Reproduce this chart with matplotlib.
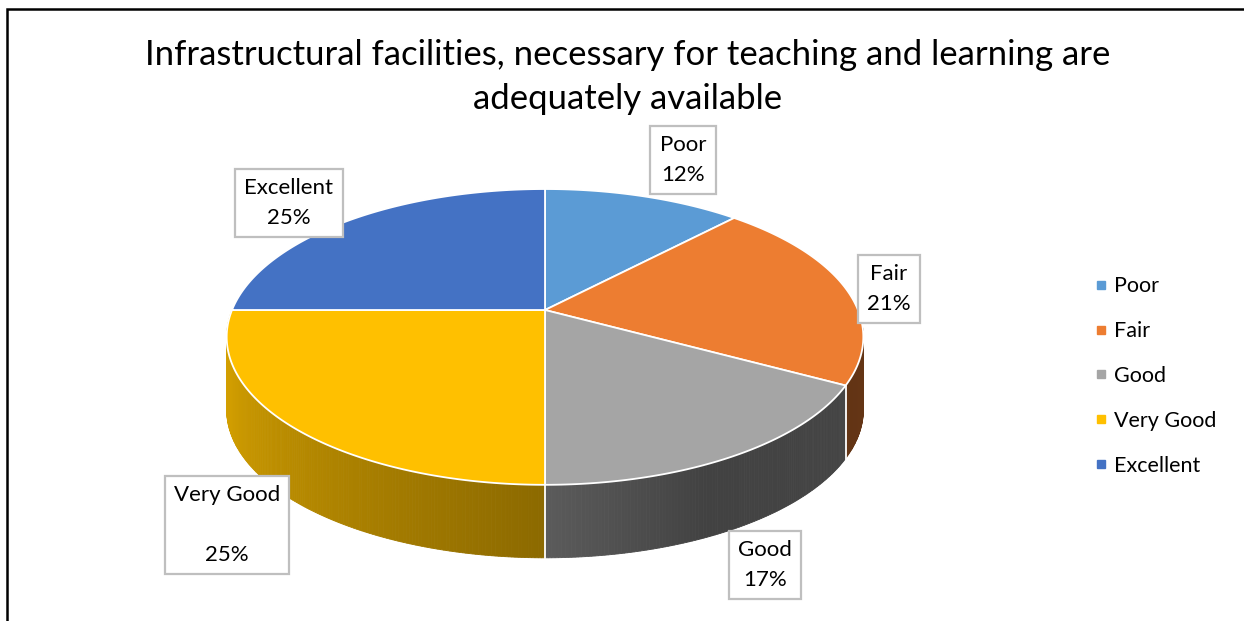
import numpy as np
import matplotlib.pyplot as plt
from matplotlib.patches import Polygon
from matplotlib.lines import Line2D

# chart data
categories = ["Poor", "Fair", "Good", "Very Good", "Excellent"]
shares = [12, 21, 17, 25, 25]
colors = ["#5B9BD5", "#ED7D31", "#A5A5A5", "#FFC000", "#4472C4"]
label_text = ["Poor\n12%", "Fair\n21%", "Good\n17%", "Very Good\n\n25%", "Excellent\n25%"]
title = "Infrastructural facilities, necessary for teaching and learning are\nadequately available"

# where the data labels sit (pixels)
label_pos = [(683, 160), (889, 289), (765, 565), (227, 525), (289, 203)]

# pie geometry, in pixel units of the canvas
CX, CY = 545, 310
RX, RY = 313, 143
PERSP = 0.182
DEPTH = 73

plt.rcParams['font.family'] = ['Lato', 'DejaVu Sans']


def proj(t):
    u, v = np.cos(t), np.sin(t)
    d = 1 + PERSP * v
    return CX + RX * u / d, CY - RY * v / d


def shade(tdeg):
    return np.interp(tdeg, [-180, -160, -90, -65, 0], [0.84, 0.82, 0.55, 0.40, 0.43])


def darker(c, f):
    r, g, b = [int(c[i:i + 2], 16) / 255 for i in (1, 3, 5)]
    return (r * f, g * f, b * f)


fig = plt.figure(figsize=(12.44, 6.21), dpi=100)
ax = fig.add_axes([0, 0, 1, 1])
ax.set_xlim(0, 1244)
ax.set_ylim(621, 0)
ax.axis('off')

cum = np.concatenate([[0], np.cumsum(shares)]) / sum(shares)
starts = 90 - 360 * cum[:-1]
ends = 90 - 360 * cum[1:]

# side wall pieces (front half only)
quads = []
for i in range(len(shares)):
    lo, hi = max(ends[i], -180), min(starts[i], 0)
    if hi - lo <= 0:
        continue
    ts = np.linspace(lo, hi, max(int((hi - lo) * 2), 2) + 1)
    for a, b in zip(ts[:-1], ts[1:]):
        xa, ya = proj(np.radians(a))
        xb, yb = proj(np.radians(b))
        mid = (a + b) / 2
        quads.append((np.sin(np.radians(mid)),
                      [(xa, ya), (xb, yb), (xb, yb + DEPTH), (xa, ya + DEPTH)],
                      darker(colors[i], shade(mid))))
quads.sort(key=lambda q: -q[0])
for _, pts, col in quads:
    ax.add_patch(Polygon(pts, closed=True, facecolor=col, edgecolor=col, lw=0.6))

# white seams between slices on the side
for t in starts:
    if -180 < t < 0:
        x, y = proj(np.radians(t))
        ax.plot([x, x], [y, y + DEPTH], color='white', lw=1.3)

# top faces
for i in range(len(shares)):
    ts = np.radians(np.linspace(starts[i], ends[i], 200))
    xs, ys = proj(ts)
    pts = [(CX, CY)] + list(zip(xs, ys))
    ax.add_patch(Polygon(pts, closed=True, facecolor=colors[i], edgecolor='white', lw=1.3))

# data labels
for txt, (x, y) in zip(label_text, label_pos):
    ax.text(x, y, txt, ha='center', va='center', fontsize=16, linespacing=1.6,
            bbox=dict(boxstyle='square,pad=0.42', facecolor='white', edgecolor='#BFBFBF', lw=1.6))

ax.text(628, 77, title, ha='center', va='center', fontsize=25, linespacing=1.47)

handles = [Line2D([], [], marker='s', linestyle='none', markersize=6,
                  markerfacecolor=c, markeredgecolor=c) for c in colors]
ax.legend(handles, categories, loc='center left', bbox_to_anchor=(1075 / 1244, 1 - 376 / 621),
          frameon=False, fontsize=15.5, labelspacing=1.15, handlelength=0.6, handletextpad=0.3)

# frame around the chart area
ax.plot([7, 7, 1244], [621, 9, 9], color='black', lw=1.8, solid_joinstyle='miter')

fig.savefig('out.png', dpi=100)
